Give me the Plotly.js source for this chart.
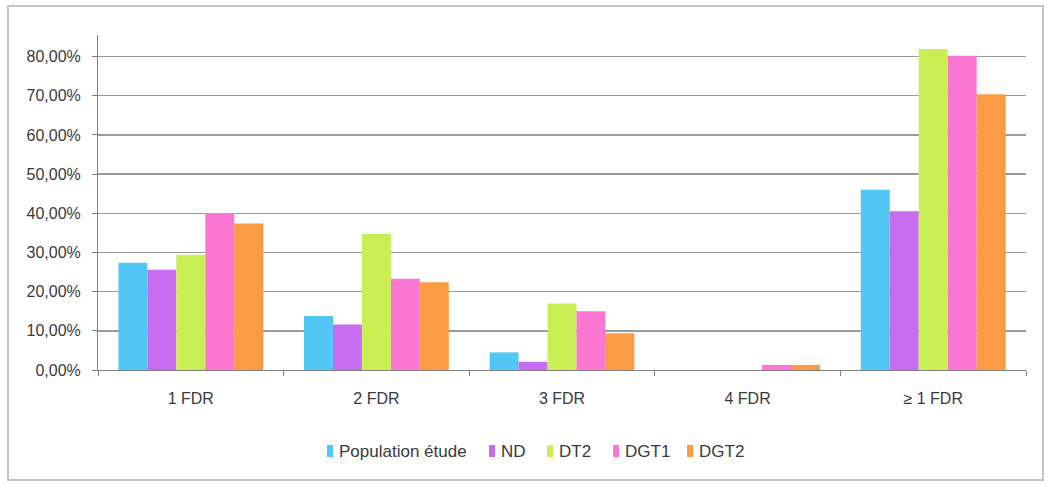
<!DOCTYPE html>
<html>
<head>
<meta charset="utf-8">
<script src="https://cdn.plot.ly/plotly-3.0.1.min.js"></script>
<style>
  html, body { margin: 0; padding: 0; background: #ffffff; }
  #chart { width: 1048px; height: 484px; }
</style>
</head>
<body>
<div id="chart"></div>
<script>
// Categories (number of risk factors) and share of each group
const categories = ['1 FDR', '2 FDR', '3 FDR', '4 FDR', '≥ 1 FDR'];
const seriesNames = ['Population étude', 'ND', 'DT2', 'DGT1', 'DGT2'];
const populationEtude = [0.274, 0.138, 0.045, 0.0, 0.460];
const nd = [0.256, 0.116, 0.021, 0.0, 0.405];
const dt2 = [0.294, 0.348, 0.170, 0.0, 0.819];
const dgt1 = [0.401, 0.233, 0.150, 0.013, 0.802];
const dgt2 = [0.374, 0.224, 0.094, 0.013, 0.704];
const yTicks = [0, 0.1, 0.2, 0.3, 0.4, 0.5, 0.6, 0.7, 0.8];

const seriesValues = [populationEtude, nd, dt2, dgt1, dgt2];
const colors = ['#52c6f4', '#c86cef', '#c9ef55', '#fb77d2', '#fb9c45'];

const traces = seriesValues.map((vals, i) => ({
  type: 'bar',
  name: seriesNames[i],
  x: categories,
  y: vals,
  marker: { color: colors[i], line: { width: 0 } },
  showlegend: false,
  hoverinfo: 'x+y+name'
}));

// Plot frame in pixels
const L = 98, R = 22, T = 35, B = 114;
const plotW = 1048 - L - R, plotH = 484 - T - B;
const px = v => (v - L) / plotW;
const py = v => (484 - B - v) / plotH;

// Legend: narrow colour swatch followed by its label, laid out in one row
const legendSwatchX = [327, 489, 547, 613, 687];
const legendY = 451;
const legendShapes = seriesNames.map((n, i) => ({
  type: 'rect', xref: 'paper', yref: 'paper',
  x0: px(legendSwatchX[i]), x1: px(legendSwatchX[i] + 6),
  y0: py(legendY + 6), y1: py(legendY - 6),
  line: { width: 0 }, fillcolor: colors[i]
}));
const legendLabels = seriesNames.map((n, i) => ({
  xref: 'paper', yref: 'paper',
  x: px(legendSwatchX[i] + 10), y: py(legendY),
  xanchor: 'left', yanchor: 'middle',
  text: n, showarrow: false,
  font: { size: 17, color: '#3a3a3a' }
}));

const layout = {
  width: 1048,
  height: 484,
  margin: { l: L, r: R, t: T, b: B },
  paper_bgcolor: '#ffffff',
  plot_bgcolor: '#ffffff',
  separators: ', ',
  barmode: 'group',
  bargap: 0.22,
  bargroupgap: 0,
  font: { family: 'Liberation Sans, Arial, sans-serif', size: 17, color: '#3a3a3a' },
  xaxis: {
    type: 'category',
    showgrid: false,
    showline: true,
    linecolor: '#808080',
    linewidth: 1,
    ticks: 'outside',
    tickson: 'boundaries',
    ticklen: 5,
    tickcolor: '#808080',
    ticklabelstandoff: 14,
    tickfont: { size: 16, color: '#3a3a3a' },
    zeroline: false
  },
  yaxis: {
    range: [0, 0.855],
    tickvals: yTicks,
    tickformat: '.2%',
    showgrid: true,
    gridcolor: '#9a9a9a',
    gridwidth: 1.5,
    showline: true,
    linecolor: '#808080',
    linewidth: 1,
    ticks: 'outside',
    ticklen: 5,
    tickcolor: '#808080',
    ticklabelstandoff: 8,
    tickfont: { size: 16, color: '#3a3a3a' },
    zeroline: false
  },
  showlegend: false,
  annotations: legendLabels,
  shapes: [{
    type: 'rect',
    xref: 'paper', yref: 'paper',
    x0: px(8), x1: px(1043),
    y0: py(480), y1: py(6),
    line: { color: '#c4c4c4', width: 2 },
    fillcolor: 'rgba(0,0,0,0)',
    layer: 'below'
  }].concat(legendShapes)
};

Plotly.newPlot('chart', traces, layout, { displayModeBar: false, staticPlot: true });
</script>
</body>
</html>
